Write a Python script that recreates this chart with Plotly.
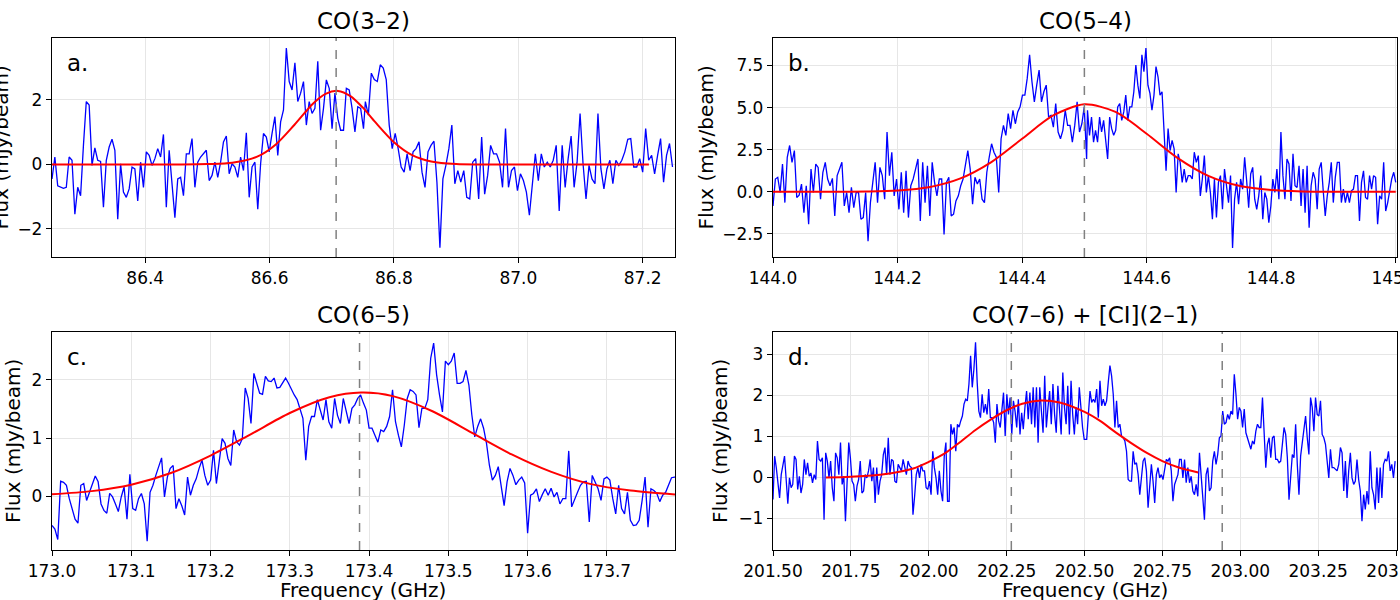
import numpy as np
import plotly.graph_objects as go

W, H = 1400, 600

# ---------------- data ----------------
# Panel a: CO(3-2)
a_seg1_range = (86.25, 86.751)
a_seg1_flux = [-0.45, 0.23, -0.66, -0.71, -0.74, -0.71, 0.23, 0.13, -1.54, -0.71, -0.97, 0.59, 1.95, 1.84, -0.03, 0.51,
               0.13, 0.09, -1.33, 0.13, 0.54, 0.78, 0.44, -1.70, 0.02, -0.86, -1.02, -0.76, -0.08, -0.14, -1.13, 0.07,
               -0.71, 0.39, 0.28, -0.03, 0.18, 0.49, 0.23, 0.93, -1.33, 0.44, -0.60, -1.65, -0.45, -0.40, -0.97, 0.33,
               0.33, 0.80, -0.71, 0.07, 0.23, 0.33, 0.44, -0.50, -0.34, 0.07, -0.40, 0.07, 0.70, 0.88, -0.29, 0.02,
               -0.08, -0.40, 0.23, -0.19, 0.98, -1.02, -0.08, 0.07, -1.39, 0.02, 0.96, 0.85, 0.39, 0.96, 1.48, 0.28,
               1.32, 1.69, 3.61, 2.57, 2.31, 3.15, 1.95, 2.21, 2.57, 1.22, 1.95, 1.58, 1.74, 3.20, 1.06, 1.74, 2.62,
               2.36, 1.11, 2.21, 1.43, 1.06, 1.06, 2.36, 2.31, 1.74, 1.01, 1.79, 1.74, 1.11]
a_seg2_range = (86.754, 87.248)
a_seg2_flux = [1.95, 1.53, 2.83, 2.63, 2.57, 3.09, 2.99, 2.63, 1.22, 0.49, 0.96, 0.49, -0.08, -0.24, 0.33, -0.19, 0.39,
               0.49, 0.70, -0.24, -0.71, 0.39, 0.59, 0.72, -0.55, -2.58, -0.45, -0.03, 0.49, 1.22, -0.60, -0.19, -0.55,
               -0.19, -1.02, -1.07, 0.07, 0.18, -1.07, 0.85, -0.92, -0.34, 0.59, 0.33, 0.33, 0.07, -0.71, 1.11, -0.71,
               -0.19, -0.08, -0.81, -0.29, -0.50, -0.86, -1.57, -0.66, 0.33, -0.50, 0.33, -0.08, 0.07, -0.08, 0.13,
               0.59, -1.44, 0.59, -0.71, 0.18, 0.88, -0.71, 0.07, 1.58, 0.02, -1.07, -0.03, -0.45, -0.60, 1.58, -0.14,
               -0.76, -0.14, 0.13, -0.60, 0.13, -0.03, 0.13, 0.39, 0.78, 0.80, -0.08, -0.08, 0.18, -0.24, 1.11, 0.13,
               0.28, -0.29, 0.28, 0.80, -0.55, 0.28, 0.65, -0.08]
a_fit_freq = [86.25, 86.45, 86.50, 86.54, 86.58, 86.61, 86.64, 86.67, 86.69, 86.71, 86.73, 86.75, 86.77, 86.80,
              86.83, 86.86, 86.90, 86.95, 87.21]
a_fit_flux = [0.0, 0.0, 0.01, 0.05, 0.24, 0.62, 1.23, 1.89, 2.19, 2.28, 2.12, 1.76, 1.31, 0.69, 0.28, 0.09, 0.01,
              0.0, 0.0]

# Panel b: CO(5-4)
b_seg1_range = (144.0, 144.5036)
b_seg1_flux = [-0.84, 0.76, 0.86, -0.04, 1.65, -0.64, 2.05, 2.75, 1.75, 2.45, -0.34, -0.20, 0.46, -1.24, 0.36, -1.93,
               1.35, -0.04, 1.65, 1.45, -0.44, 1.16, 1.75, 0.76, 0.36, 0.80, -1.43, 0.96, 1.35, 1.75, -0.84, -0.04,
               -1.24, 0.26, -0.94, -0.04, -0.04, -1.63, -1.53, -0.04, -2.93, -0.64, 0.56, 1.75, -0.64, 1.45, 0.96,
               -0.44, 3.55, 0.96, 2.35, -0.24, 0.76, -1.04, 1.16, -1.24, 1.25, -1.53, 0.36, 0.76, 1.35, 1.95, -1.73,
               1.75, -0.64, 1.55, -1.43, 1.75, 0.56, -0.24, 0.76, 0.76, -2.53, 0.56, 0.86, -1.43, -1.33, -0.54, -0.24,
               0.36, 0.76, 1.55, 2.45, 1.35, -0.74, 0.86, 0.46, 0.76, -0.44, -0.64, 1.16, 2.05, 2.85, 2.35, 2.05,
               -0.04, 3.15, 3.94, 3.35, 4.64, 3.75, 4.84, 4.04, 4.74, 5.04, 5.74, 5.74, 6.73, 8.13, 6.53, 5.34, 6.33,
               7.23, 5.34, 5.94, 6.33, 4.44, 4.54, 3.84, 5.24, 3.55, 3.15, 3.65, 4.84, 3.94, 3.94, 2.95, 3.94, 5.34,
               3.55, 4.04, 5.04, 1.95]
b_seg2_range = (144.505, 145.0)
b_seg2_flux = [4.84, 3.35, 4.44, 2.95, 3.65, 2.95, 4.44, 3.55, 4.24, 3.15, 1.95, 4.44, 3.75, 3.35, 3.65, 5.04, 5.24,
               4.24, 4.74, 5.74, 4.24, 5.04, 5.04, 5.94, 7.53, 6.33, 5.54, 8.13, 7.13, 8.53, 6.33, 5.84, 4.84, 5.74,
               7.43, 6.83, 5.74, 5.94, 3.55, 1.25, 3.75, 2.45, 3.05, 2.55, -0.04, 2.25, 1.75, 0.56, 1.35, 0.56, 0.96,
               0.96, 0.76, 2.35, 1.75, 2.15, -0.24, 0.76, 2.15, -0.04, 0.96, -0.04, -1.63, 0.76, -1.53, 0.56, 0.96,
               -1.04, 1.35, 0.26, -0.64, 0.96, -3.33, -0.44, 0.56, -0.74, 0.76, 0.16, 2.05, 0.66, -0.94, 1.06, 1.45,
               -0.44, -1.04, -0.24, 0.96, -1.63, -0.04, -0.44, -1.83, -0.84, 0.76, -0.04, 1.35, -0.44, 3.55, 0.96,
               -0.44, 1.95, 1.65, -0.54, 2.25, 0.36, 0.26, 1.55, -0.84, 1.35, -1.24, 1.55, -2.13, 0.36, 1.16, 0.76,
               -1.04, 1.35, 1.75, 0.06, -1.43, -0.24, 0.56, 1.75, -0.64, 0.86, 1.75, 1.75, -0.64, 0.16, -0.64, -0.04,
               -0.64, 0.06, 0.16, 0.96, 0.96, -1.73, 0.56, 1.25, -0.34, -0.44, 0.96, 0.16, 0.96, 0.86, -1.93, -0.24,
               -0.44, 1.75, -1.14, -0.64, 0.16, 0.76, 1.16, 0.56]
b_fit_freq = [144.0, 144.1, 144.15, 144.2, 144.25, 144.3, 144.35, 144.4, 144.45, 144.5, 144.55, 144.6, 144.65,
              144.7, 144.75, 144.8, 144.85, 144.9, 145.0]
b_fit_flux = [0.0, 0.0, 0.02, 0.08, 0.27, 0.78, 1.75, 3.15, 4.53, 5.19, 4.74, 3.45, 2.0, 0.93, 0.34, 0.10, 0.02,
              0.0, 0.0]

# Panel c: CO(6-5)
c_seg1_range = (173.0, 173.3966)
c_seg1_flux = [-0.50, -0.56, -0.74, 0.26, 0.24, 0.19, -0.04, -0.21, -0.39, -0.46, 0.19, 0.22, -0.07, 0.07, 0.22,
               0.35, 0.25, -0.13, -0.24, -0.29, 0.05, -0.01, -0.13, -0.26, -0.01, 0.16, -0.39, 0.38, -0.21, -0.24,
               -0.04, 0.05, -0.13, -0.77, 0.07, 0.19, 0.36, 0.51, 0.66, -0.01, 0.33, 0.48, 0.53, -0.21, -0.04, -0.16,
               -0.32, 0.33, 0.02, 0.19, 0.30, 0.48, 0.62, 0.36, 0.19, 0.28, 0.79, 0.22, 0.59, 0.99, 0.91, 0.65, 0.53,
               1.14, 0.94, 0.88, 0.99, 1.86, 1.68, 1.25, 2.11, 1.94, 1.77, 1.75, 2.06, 1.98, 1.97, 2.03, 1.86, 1.87,
               1.96, 2.03, 1.94, 1.83, 1.74, 1.66, 1.48, 1.34, 0.62, 1.20, 1.37, 1.37, 1.66, 1.48, 1.31, 1.66, 1.28,
               1.17, 1.68, 1.39, 1.25, 1.68, 1.48, 1.25, 1.51, 1.57, 1.68, 1.74, 1.60, 1.48]
c_seg2_range = (173.4, 173.789)
c_seg2_flux = [1.17, 1.17, 1.05, 0.93, 1.14, 1.11, 1.20, 1.37, 1.83, 1.28, 1.05, 0.85, 1.22, 1.68, 1.83, 1.80, 1.74,
               1.18, 1.51, 1.51, 1.66, 2.37, 2.63, 2.09, 1.74, 1.45, 2.32, 2.26, 2.32, 2.46, 1.94, 1.94, 1.97, 2.16,
               1.91, 1.40, 1.02, 1.20, 1.33, 1.17, 0.91, 0.53, 0.28, 0.36, 0.51, 0.19, -0.16, 0.25, 0.48, 0.36, 0.20,
               0.28, 0.33, 0.23, -0.63, 0.02, 0.05, 0.13, -0.09, 0.03, 0.13, 0.02, 0.14, -0.01, 0.07, -0.13, -0.04,
               -0.04, 0.78, -0.18, -0.04, 0.07, 0.19, 0.25, 0.26, -0.44, 0.36, 0.25, 0.13, -0.07, 0.30, 0.33, 0.28,
               -0.04, -0.30, 0.19, -0.21, -0.30, 0.07, -0.41, -0.50, -0.49, -0.41, -0.07, 0.33, -0.53, 0.13, 0.10,
               0.05, -0.09, 0.02, 0.07, 0.19, 0.32, 0.33, 0.33]
c_fit_freq = [173.0, 173.05, 173.1, 173.15, 173.2, 173.25, 173.3, 173.35, 173.39, 173.43, 173.48, 173.53, 173.58,
              173.63, 173.68, 173.73, 173.786]
c_fit_flux = [0.035, 0.09, 0.2, 0.4, 0.7, 1.06, 1.43, 1.70, 1.78, 1.72, 1.46, 1.09, 0.72, 0.42, 0.21, 0.10, 0.034]

# Panel d: CO(7-6) + [CI](2-1)
d_seg1_range = (201.5, 202.499)
d_seg1_flux = [-0.54, 0.52, 0.24, -0.17, -0.50, 0.07, 0.36, 0.52, -0.05, -0.64, -0.01, -0.25, -0.17, 0.52, 0.44,
               -0.29, 0.03, -0.38, -0.17, 0.44, 0.07, 0.36, 0.03, 0.11, -0.13, 0.07, -0.05, 0.89, 0.44, 0.40, 0.48,
               -1.03, 0.60, 0.40, -0.01, 0.40, -0.25, -0.58, 0.60, 0.48, 0.07, 0.85, -0.17, 0.03, -1.07, -0.09, 0.85,
               0.48, -0.09, -0.17, -0.58, -0.21, -0.05, 0.40, -0.38, -0.33, 0.07, -0.01, 0.16, 0.44, -0.09, 0.24,
               -0.62, 0.24, -0.42, -0.09, 0.07, 0.56, 0.73, 0.07, 0.97, 0.07, 0.44, 0.40, -0.09, -0.13, 0.32, 0.24,
               0.16, 0.44, 0.24, 0.07, 0.40, 0.28, 0.24, -0.91, -0.46, 0.07, 0.24, -0.01, 0.32, 0.16, 0.16, -0.25,
               -0.29, -0.09, -0.42, 0.64, 0.24, -0.01, -0.42, 0.16, -0.33, -0.58, 0.52, 0.85, -0.58, -0.58, 1.30,
               1.05, 1.22, 0.64, 1.30, 1.23, 1.38, 1.50, 1.79, 1.91, 1.87, 2.28, 2.97, 2.20, 2.64, 3.30, 2.32, 1.62,
               1.46, 2.03, 1.58, 1.79, 1.54, 2.16, 1.46, 1.46, 1.34, 0.85, 1.79, 1.38, 1.22, 1.71, 2.07, 1.01, 2.03,
               1.54, 1.95, 1.05, 1.87, 1.62, 1.22, 1.91, 1.05, 1.58, 1.18, 1.71, 2.11, 1.42, 2.07, 1.30, 2.20, 1.22,
               2.20, 0.85, 2.20, 1.62, 1.09, 2.48, 1.22, 1.71, 2.11, 1.30, 2.28, 1.54, 1.09, 2.24, 1.54, 1.05, 2.56,
               1.71, 1.30, 2.24, 1.05, 2.36, 1.54, 1.05, 1.71, 1.30, 2.20, 1.62, 1.22, 0.93]
d_seg2_range = (202.507, 203.497)
d_seg2_flux = [0.93, 1.54, 2.11, 1.83, 1.91, 1.83, 2.16, 1.46, 2.36, 1.75, 1.91, 1.75, 1.87, 2.32, 2.73, 2.48, 2.03,
               1.22, 1.87, 1.22, 1.30, 1.01, 0.97, 0.89, 0.64, -0.05, -0.09, -0.09, 0.64, 0.32, 0.36, 0.07, -0.42,
               -0.01, 0.40, 0.48, 0.16, -0.74, -0.09, 0.32, -0.09, -0.62, 0.07, 0.24, -0.01, 0.07, -0.05, 0.16, 0.44,
               0.40, 0.48, 0.16, -0.58, -0.17, -0.05, 0.07, 0.44, 0.44, -0.01, 0.44, -0.13, 0.24, -0.13, 0.03, -0.33,
               -0.42, -0.17, -0.46, 0.60, 0.03, -0.42, -1.03, 0.07, 0.24, -0.33, -0.25, 0.40, 0.64, 0.32, 0.56, 0.97,
               1.01, 1.62, 1.30, 1.34, 1.54, 1.42, 1.62, 1.54, 2.52, 2.03, 1.42, 1.71, 1.62, 1.22, 1.67, 1.09, 0.97,
               0.85, 0.69, 0.89, 0.81, 1.13, 1.30, 1.22, 1.22, 1.95, 1.22, 0.24, 0.81, 0.97, 0.48, 0.97, 1.01, 0.44,
               0.44, 0.36, 0.40, 0.89, 1.22, 1.05, 0.48, -0.54, 0.03, 0.56, 0.48, 1.30, 0.32, -0.42, 0.52, 0.81, 1.22,
               1.50, 0.97, 0.56, 1.95, 1.71, 1.13, 1.95, 1.54, 1.50, 1.87, 1.05, 0.97, 0.81, 0.40, -0.01, 0.69, 0.24,
               0.24, 0.20, 0.16, 0.32, 0.73, 0.60, -0.33, 0.40, -0.50, 0.16, 0.60, -0.01, -0.17, -0.09, 0.44, -0.05,
               -0.33, -1.07, -0.42, -0.78, -0.33, -0.66, 0.64, -0.25, -0.42, -0.78, 0.24, -0.62, 0.24, -0.50, 0.32,
               0.44, 0.40, 0.64, 0.16, 0.32, -0.01, 0.40]
d_fit_freq = [201.67, 201.75, 201.85, 201.95, 202.0, 202.05, 202.1, 202.15, 202.2, 202.25, 202.3, 202.36, 202.42,
              202.5, 202.55, 202.6, 202.65, 202.7, 202.75, 202.8, 202.865]
d_fit_flux = [0.0, 0.02, 0.07, 0.22, 0.38, 0.58, 0.86, 1.16, 1.42, 1.64, 1.8, 1.88, 1.83, 1.6, 1.38, 1.1, 0.84,
              0.6, 0.4, 0.25, 0.12]

titles = ["CO(3–2)", "CO(5–4)", "CO(6–5)", "CO(7–6) + [CI](2–1)"]
letters = ["a.", "b.", "c.", "d."]
line_centres = [[86.707], [144.5], [173.388], [202.265, 202.942]]
x_ranges = [[86.25, 87.252], [144.0, 145.002], [173.0, 173.786], [201.5, 203.503]]
y_ranges = [[-2.87, 3.92], [-3.87, 9.13], [-0.92, 2.82], [-1.77, 3.55]]
x_ticks = [[86.4, 86.6, 86.8, 87.0, 87.2],
           [144.0, 144.2, 144.4, 144.6, 144.8, 145.0],
           [173.0, 173.1, 173.2, 173.3, 173.4, 173.5, 173.6, 173.7],
           [201.5, 201.75, 202.0, 202.25, 202.5, 202.75, 203.0, 203.25, 203.5]]
x_fmt = [".1f", ".1f", ".1f", ".2f"]
y_ticks = [[-2, 0, 2], [-2.5, 0.0, 2.5, 5.0, 7.5], [0, 1, 2], [-1, 0, 1, 2, 3]]
y_fmt = ["d", ".1f", "d", "d"]

spectra = [
    [(a_seg1_range, a_seg1_flux), (a_seg2_range, a_seg2_flux)],
    [(b_seg1_range, b_seg1_flux), (b_seg2_range, b_seg2_flux)],
    [(c_seg1_range, c_seg1_flux), (c_seg2_range, c_seg2_flux)],
    [(d_seg1_range, d_seg1_flux), (d_seg2_range, d_seg2_flux)],
]
fits = [(a_fit_freq, a_fit_flux), (b_fit_freq, b_fit_flux), (c_fit_freq, c_fit_flux), (d_fit_freq, d_fit_flux)]

# ---------------- layout geometry (pixels) ----------------
px_x = [(52, 675), (773, 1397), (52, 675), (773, 1397)]
px_y = [(38, 257), (38, 257), (332, 550), (332, 550)]
ylab_x = [0, 705, 13, 720]

FONT = "DejaVu Sans"
fig = go.Figure()
layout = dict(width=W, height=H, margin=dict(l=0, r=0, t=0, b=0),
              paper_bgcolor="white", plot_bgcolor="white", showlegend=False)
annotations = []
shapes = []

for i in range(4):
    n = "" if i == 0 else str(i + 1)
    xa, ya = "x" + n, "y" + n
    xs, ys = [], []
    for (lo, hi), flux in spectra[i]:
        xs.extend(np.linspace(lo, hi, len(flux)))
        ys.extend(flux)
    fig.add_trace(go.Scatter(x=xs, y=ys, mode="lines", line=dict(color="#0000ff", width=1.3),
                             xaxis=xa, yaxis=ya, hoverinfo="skip"))
    fig.add_trace(go.Scatter(x=fits[i][0], y=fits[i][1], mode="lines",
                             line=dict(color="#ff0000", width=2, shape="spline", smoothing=0.8),
                             xaxis=xa, yaxis=ya, hoverinfo="skip"))
    x0, x1 = px_x[i]
    y0, y1 = px_y[i]
    common = dict(showline=True, linecolor="black", linewidth=1.3, mirror=True, ticks="outside",
                  ticklen=5, tickwidth=1.3, tickcolor="black", showgrid=True, gridcolor="#e6e6e6",
                  gridwidth=1, zeroline=False, automargin=False, ticklabeloverflow="allow",
                  tickfont=dict(family=FONT, size=17, color="black"))
    layout["xaxis" + n] = dict(domain=[x0 / W, x1 / W], anchor=ya, range=x_ranges[i],
                               tickvals=x_ticks[i], tickformat=x_fmt[i], **common)
    layout["yaxis" + n] = dict(domain=[1 - y1 / H, 1 - y0 / H], anchor=xa, range=y_ranges[i],
                               tickvals=y_ticks[i], tickformat=y_fmt[i], **common)
    for fc in line_centres[i]:
        shapes.append(dict(type="line", xref=xa, yref=ya + " domain", x0=fc, x1=fc, y0=0, y1=1,
                           line=dict(color="#808080", width=1.5, dash="dash")))
    # title
    annotations.append(dict(text=titles[i], xref="paper", yref="paper", x=(x0 + x1) / 2 / W,
                            y=1 - (y0 - 17) / H, xanchor="center", yanchor="middle", showarrow=False,
                            font=dict(family=FONT, size=23, color="black")))
    # panel letter
    annotations.append(dict(text=letters[i], xref="paper", yref="paper", x=(x0 + 13) / W,
                            y=1 - (y0 + 25) / H, xanchor="left", yanchor="middle", showarrow=False,
                            font=dict(family=FONT, size=23, color="black")))
    # y label
    annotations.append(dict(text="Flux (mJy/beam)", xref="paper", yref="paper", x=ylab_x[i] / W,
                            y=1 - (y0 + y1) / 2 / H, xanchor="center", yanchor="middle", textangle=-90,
                            showarrow=False, font=dict(family=FONT, size=20, color="black")))
    if i >= 2:
        annotations.append(dict(text="Frequency (GHz)", xref="paper", yref="paper", x=(x0 + x1) / 2 / W,
                                y=1 - 576 / H, xanchor="center", yanchor="top", showarrow=False,
                                font=dict(family=FONT, size=20, color="black")))

layout["annotations"] = annotations
layout["shapes"] = shapes
fig.update_layout(**layout)
fig.write_html("out.html")
